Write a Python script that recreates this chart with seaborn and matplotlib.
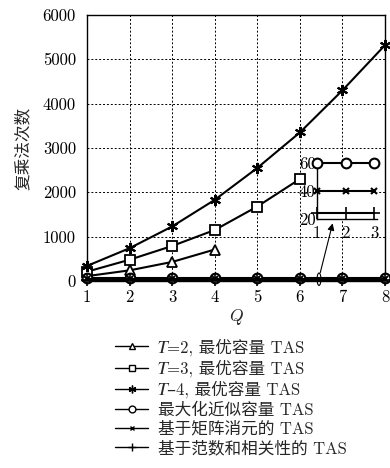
import numpy as np
import pandas as pd
import seaborn as sns
import matplotlib
matplotlib.use("Agg")
import matplotlib.pyplot as plt
from matplotlib.lines import Line2D
from matplotlib.patches import Ellipse

sns.set_style("white")
FAMILY = ["cmr10", "Noto Sans CJK SC", "STIXGeneral", "DejaVu Serif", "DejaVu Sans"]
plt.rcParams["font.family"] = FAMILY
plt.rcParams["mathtext.fontset"] = "cm"
plt.rcParams["axes.unicode_minus"] = False

# Complex multiplications vs. Q for each TAS scheme
q_t2 = [1, 2, 3, 4]
mult_t2 = [110, 240, 430, 710]
q_t3 = [1, 2, 3, 4, 5, 6]
mult_t3 = [210, 480, 790, 1150, 1680, 2300]
q_t4 = [1, 2, 3, 4, 5, 6, 7, 8]
mult_t4 = [340, 740, 1230, 1830, 2550, 3350, 4300, 5320]
q_all = [1, 2, 3, 4, 5, 6, 7, 8]
mult_maxcap = [60] * 8
mult_matrix = [40] * 8
mult_norm = [24] * 8

IT_T = "\U0001D447"  # mathematical italic capital T
labels = [
    IT_T + "=2, 最优容量 TAS",
    IT_T + "=3, 最优容量 TAS",
    IT_T + "–4, 最优容量 TAS",
    "最大化近似容量 TAS",
    "基于矩阵消元的 TAS",
    "基于范数和相关性的 TAS",
]
x_ticks = [1, 2, 3, 4, 5, 6, 7, 8]
y_ticks = [0, 1000, 2000, 3000, 4000, 5000, 6000]
inset_x_ticks = [1, 2, 3]
inset_y_ticks = [20, 40, 60]

star = (6, 2, 0)
styles = [
    dict(marker="^", ms=7, mfc="white", mew=1.3),
    dict(marker="s", ms=6.5, mfc="white", mew=1.3),
    dict(marker=star, ms=8, mfc="black", mew=1.5),
    dict(marker="o", ms=7, mfc="white", mew=1.5),
    dict(marker="x", ms=5, mfc="black", mew=1.5),
    dict(marker="+", ms=8, mfc="black", mew=1.2),
]
series = [
    (q_t2, mult_t2),
    (q_t3, mult_t3),
    (q_t4, mult_t4),
    (q_all, mult_maxcap),
    (q_all, mult_matrix),
    (q_all, mult_norm),
]

fig = plt.figure(figsize=(3.9, 4.68), dpi=100)
ax = fig.add_axes([87 / 390, 1 - 281 / 468, 298 / 390, 266 / 468])

for (xs, ys), st, lab in zip(series, styles, labels):
    df = pd.DataFrame({"Q": xs, "n": ys})
    sns.lineplot(data=df, x="Q", y="n", ax=ax, color="black", lw=1.5,
                 marker=st["marker"], markersize=st["ms"],
                 markerfacecolor=st["mfc"], markeredgecolor="black",
                 markeredgewidth=st["mew"], clip_on=False, zorder=3,
                 legend=False)

ax.set_xlim(1, 8)
ax.set_ylim(0, 6000)
ax.set_xticks(x_ticks)
ax.set_yticks(y_ticks)
ax.set_xticklabels([str(v) for v in x_ticks])
ax.set_yticklabels([str(v) for v in y_ticks])
ax.tick_params(axis="both", length=0, labelsize=12, colors="black")
ax.tick_params(axis="y", pad=8)
ax.tick_params(axis="x", pad=6)
ax.grid(True, color="black", lw=0.7, linestyle=(0, (2, 2)))
for sp in ax.spines.values():
    sp.set_color("black")
    sp.set_linewidth(1.0)
ax.set_xlabel("$Q$", fontsize=12.5, labelpad=2)
ax.set_ylabel("复乘法次数", fontsize=12, labelpad=8,
              family=["Noto Sans CJK SC", "DejaVu Sans"])

# zoom marker near the baseline and arrow to the magnified view
ax.add_patch(Ellipse((6.45, 40), 0.09, 280, fill=False, ec="black", lw=0.8,
                     clip_on=False, zorder=4))
ax.annotate("", xy=(6.77, 1300), xytext=(6.48, 190),
            arrowprops=dict(arrowstyle="-|>", color="black", lw=0.8,
                            mutation_scale=10, shrinkA=0, shrinkB=0))

# magnified view of the three low-complexity schemes
axin = fig.add_axes([317 / 390, 1 - 219 / 468, 60 / 390, 56 / 468])
for (xs, ys), st in zip(series[3:], styles[3:]):
    df = pd.DataFrame({"Q": xs[:3], "n": ys[:3]})
    sns.lineplot(data=df, x="Q", y="n", ax=axin, color="black", lw=1.5,
                 marker=st["marker"], markersize=st["ms"],
                 markerfacecolor=st["mfc"], markeredgecolor="black",
                 markeredgewidth=st["mew"], clip_on=False, zorder=3,
                 legend=False)
axin.set_xlim(1, 3.1)
axin.set_ylim(20, 60)
axin.set_xticks(inset_x_ticks)
axin.set_yticks(inset_y_ticks)
axin.set_xticklabels([str(v) for v in inset_x_ticks])
axin.set_yticklabels([str(v) for v in inset_y_ticks])
axin.tick_params(axis="both", length=0, labelsize=12, colors="black")
axin.tick_params(axis="y", pad=1)
axin.tick_params(axis="x", pad=5)
axin.set_xlabel("")
axin.set_ylabel("")
axin.spines["top"].set_visible(False)
axin.spines["right"].set_visible(False)
for s in ("left", "bottom"):
    axin.spines[s].set_color("black")
    axin.spines[s].set_linewidth(1.0)
axin.set_facecolor("white")

handles = [Line2D([], [], color="black", lw=1.0, marker=st["marker"],
                  markersize=st["ms"] * 0.7, markerfacecolor=st["mfc"],
                  markeredgecolor="black", markeredgewidth=1.0)
           for st in styles]
fig.legend(handles, labels, loc="upper left",
           bbox_to_anchor=(115 / 390, 1 - 338 / 468), frameon=False,
           fontsize=12, handlelength=2.0, labelspacing=0.22,
           handletextpad=0.55, borderpad=0, borderaxespad=0)

fig.savefig("out.png", dpi=100, facecolor="white")
